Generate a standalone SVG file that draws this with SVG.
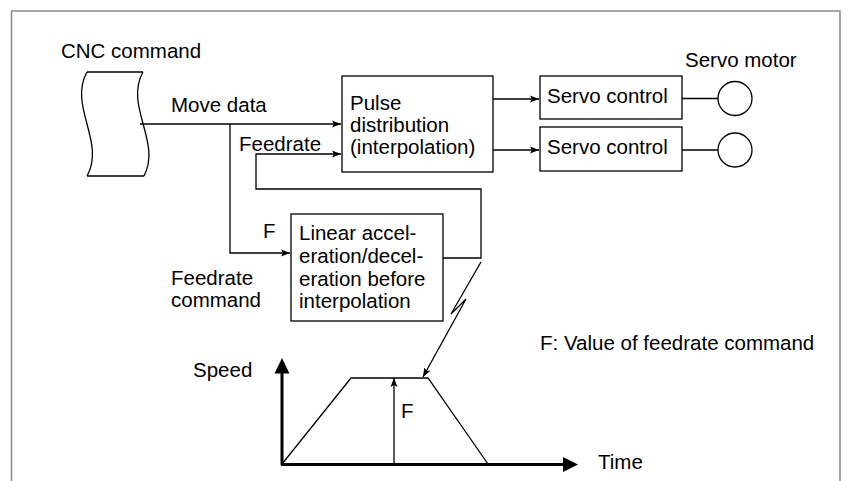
<svg xmlns="http://www.w3.org/2000/svg" width="850" height="481" viewBox="0 0 850 481">
<style>
text{font-family:"Liberation Sans",Arial,sans-serif;font-size:20.5px;fill:#000}
.box{fill:#fff;stroke:#000;stroke-width:1.3}
.ln{fill:none;stroke:#000;stroke-width:1.3}
.ax{fill:none;stroke:#000;stroke-width:3}
.arr{marker-end:url(#ah)}
</style>
<defs>
<marker id="ah" markerUnits="userSpaceOnUse" markerWidth="10" markerHeight="8" refX="9" refY="3.5" orient="auto" viewBox="0 0 10 7">
<path d="M0,0 L9,3.5 L0,7 L2,3.5 z" fill="#000"/>
</marker>
</defs>
<rect width="850" height="481" fill="#fff"/>
<path d="M11.5,481 V11 H840 V481" fill="none" stroke="#8c8c8c" stroke-width="1.6"/>

<g id="cnc">
<text x="61" y="58">CNC command</text>
<path class="ln" d="M87,72 H143 M87,176 H144 M87,72 C68,106 106,142 87,176 M143,72 C124,106 162,142 144,176"/>
</g>

<g id="pulse">
<rect class="box" x="342" y="76" width="151" height="96"/>
<text x="350" y="110">Pulse</text>
<text x="350" y="132">distribution</text>
<text x="350" y="154">(interpolation)</text>
</g>

<g id="servo1">
<rect class="box" x="540" y="76" width="142" height="43"/>
<text x="547" y="103">Servo control</text>
</g>
<g id="servo2">
<rect class="box" x="540" y="127" width="142" height="44"/>
<text x="547" y="154">Servo control</text>
</g>

<g id="motor1">
<text x="685" y="67">Servo motor</text>
<circle class="ln" cx="735" cy="98.5" r="17"/>
</g>
<g id="motor2">
<circle class="ln" cx="735" cy="150" r="17"/>
</g>

<g id="linear">
<rect class="box" x="291" y="214" width="152" height="107"/>
<text x="299" y="240">Linear accel-</text>
<text x="299" y="263">eration/decel-</text>
<text x="299" y="286">eration before</text>
<text x="299" y="308">interpolation</text>
</g>

<g id="labels">
<text x="171" y="112">Move data</text>
<text x="239" y="151">Feedrate</text>
<text x="263" y="238">F</text>
<text x="171" y="285">Feedrate</text>
<text x="171" y="307">command</text>
<text x="540" y="350">F: Value of feedrate command</text>
</g>

<g id="connectors">
<path class="ln arr" d="M140,124 H341"/>
<path class="ln arr" d="M230,124 V253 H290"/>
<path class="ln arr" d="M443,258 H481 V189 H256 V154 H341"/>
<path class="ln arr" d="M493,99 H539"/>
<path class="ln arr" d="M493,150 H539"/>
<path class="ln" d="M682,98.5 H718 M682,150 H718"/>
<path class="ln arr" d="M481,262 L451,314 L466,299 L423,377"/>
</g>

<g id="graph">
<text x="193" y="377">Speed</text>
<text x="598" y="469">Time</text>
<path class="ax" d="M282,465 V372"/>
<path d="M282,358 L274.5,373.5 L289.5,373.5 z" fill="#000"/>
<path class="ax" d="M281,464.5 H565"/>
<path d="M578,464.5 L563,457 L563,472 z" fill="#000"/>
<path class="ln" d="M282,464 L351,378 H428 L488,464"/>
<path class="ln arr" d="M394,464 V378"/>
<text x="401" y="418">F</text>
</g>
</svg>
